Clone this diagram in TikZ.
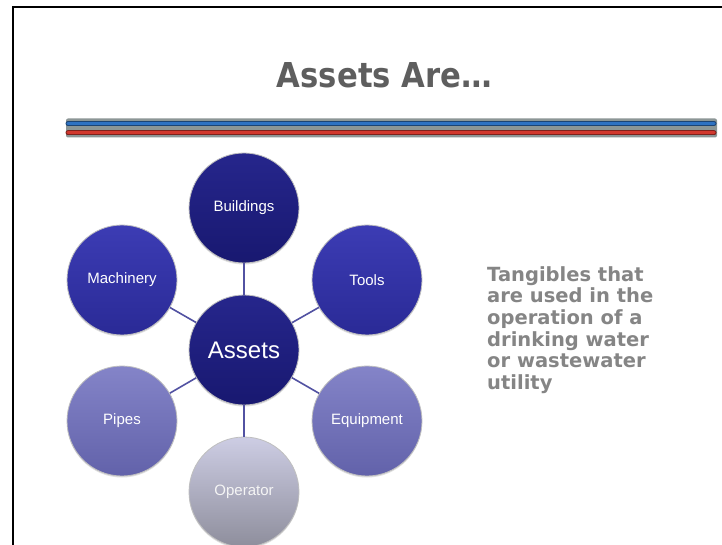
\documentclass[tikz,border=0pt]{standalone}
\usepackage{fontspec}
\setmainfont{Liberation Sans}
\newfontfamily\verd{DejaVu Sans}
\usetikzlibrary{shadows}
\definecolor{titlegray}{HTML}{5E5E5E}
\definecolor{textgray}{HTML}{858585}
\definecolor{bandgray}{HTML}{8C9696}
\definecolor{barblue}{HTML}{2E72C2}
\definecolor{barred}{HTML}{D2382E}
\definecolor{linkcol}{HTML}{5252A2}
\definecolor{navyT}{HTML}{26268C}
\definecolor{navyB}{HTML}{181870}
\definecolor{blueT}{HTML}{3C3CB4}
\definecolor{blueB}{HTML}{2A2A96}
\definecolor{lavT}{HTML}{8484C8}
\definecolor{lavB}{HTML}{6262AA}
\definecolor{greyT}{HTML}{CDCDE4}
\definecolor{greyB}{HTML}{8E8E9C}
\begin{document}
\begin{tikzpicture}[x=1pt,y=-1pt,
  bubble/.style={circle, minimum size=110pt, inner sep=0pt, draw=gray!50, line width=0.8pt,
     text=white, font=\fontsize{15}{17}\selectfont,
     drop shadow={opacity=0.25, shadow xshift=0pt, shadow yshift=-1.5pt}},
  navy/.style={bubble, top color=navyT, bottom color=navyB},
  bright/.style={bubble, top color=blueT, bottom color=blueB},
  lav/.style={bubble, top color=lavT, bottom color=lavB},
  pale/.style={bubble, top color=greyT, bottom color=greyB, text=white!92!gray},
  link/.style={draw=linkcol, line width=1.6pt}]
\useasboundingbox (0,0) rectangle (722,545);
\fill[white] (0,0) rectangle (722,545);
% frame
\draw[line width=2pt] (13,545) -- (13,7.5) -- (722,7.5);
% title
\node[text=titlegray, inner sep=0pt, anchor=base] (title) at (384.5,88)
  {\resizebox{215pt}{25pt}{\verd\bfseries Assets Are…}};
% bars
\fill[bandgray, rounded corners=2pt] (66,118.5) rectangle (717,137.5);
\draw[barblue!60!black, line width=5pt, line cap=round] (68,123.5) -- (714,123.5);
\draw[barblue, line width=3.2pt, line cap=round] (68,123.2) -- (714,123.2);
\draw[barred!60!black, line width=5pt, line cap=round] (68,133) -- (714,133);
\draw[barred, line width=3.2pt, line cap=round] (68,132.7) -- (714,132.7);
% circles
\node[navy, font=\fontsize{24}{26}\selectfont] (assets) at (244,350) {Assets};
\node[navy] (build) at (244,208) {Buildings};
\node[bright] (mach) at (122,280) {Machinery};
\node[bright] (tools) at (367,280) {Tools};
\node[lav] (pipes) at (122,421) {Pipes};
\node[lav] (equip) at (367,421) {Equipment};
\node[pale] (oper) at (244,492) {Operator};
% links
\foreach \n in {build,mach,tools,pipes,equip,oper}
  \draw[link] (assets) -- (\n);
% side text
\node[anchor=north west, align=left, inner sep=0pt, text=textgray,
      font=\verd\bfseries\fontsize{19.5}{21.7}\selectfont] (desc) at (487,266)
  {Tangibles that\\are used in the\\operation of a\\drinking water\\or wastewater\\utility};
\end{tikzpicture}
\end{document}
